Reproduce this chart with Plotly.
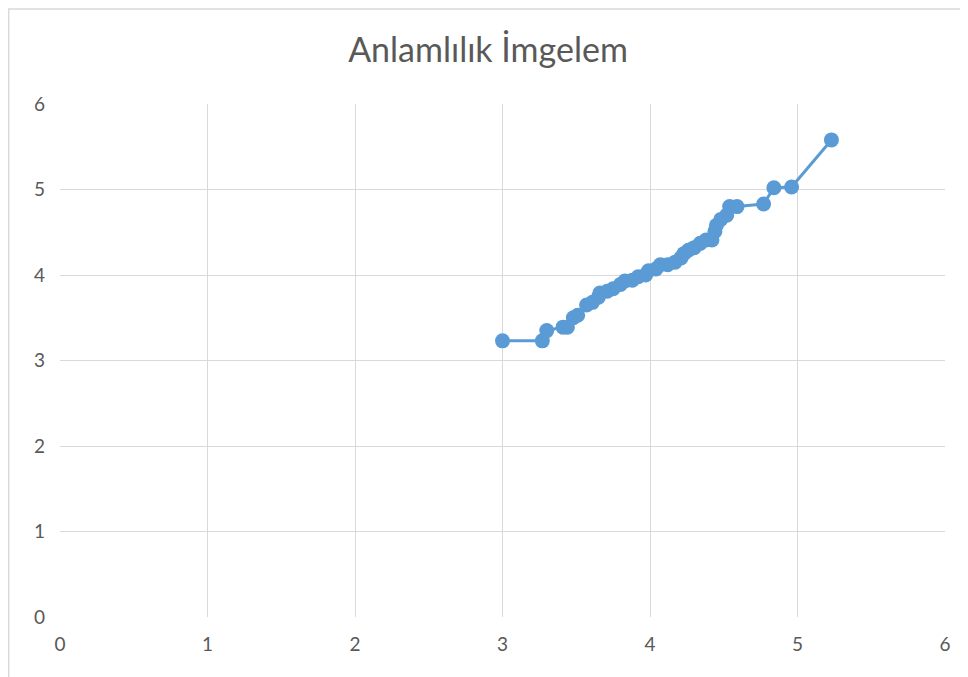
import plotly.graph_objects as go

title_text = "Anlamlılık İmgelem"

x_values = [3.00, 3.27, 3.30, 3.41, 3.44, 3.48, 3.51, 3.57, 3.61, 3.65, 3.66, 3.71,
            3.75, 3.80, 3.83, 3.88, 3.92, 3.97, 3.99, 4.04, 4.07, 4.12, 4.17, 4.21,
            4.23, 4.26, 4.30, 4.34, 4.38, 4.42, 4.44, 4.45, 4.48, 4.52, 4.54, 4.59,
            4.77, 4.84, 4.96, 5.23]
y_values = [3.23, 3.23, 3.35, 3.39, 3.39, 3.50, 3.53, 3.65, 3.68, 3.74, 3.79, 3.81,
            3.84, 3.89, 3.93, 3.94, 3.98, 4.00, 4.05, 4.07, 4.12, 4.12, 4.15, 4.20,
            4.25, 4.29, 4.32, 4.37, 4.41, 4.41, 4.51, 4.58, 4.65, 4.70, 4.80, 4.80,
            4.83, 5.02, 5.03, 5.58]

tick_vals = [0, 1, 2, 3, 4, 5, 6]

fig = go.Figure()
fig.add_trace(go.Scatter(
    x=x_values, y=y_values, mode="lines+markers",
    line=dict(color="#5B9BD5", width=3),
    marker=dict(color="#5B9BD5", size=15),
    showlegend=False,
))

axis_common = dict(
    range=[0, 6], tickvals=tick_vals, showgrid=True, gridcolor="#D9D9D9", gridwidth=1,
    zeroline=False, showline=False, ticks="",
    tickfont=dict(family="Lato, Open Sans, sans-serif", size=19, color="#595959"),
    fixedrange=True,
)

fig.update_layout(
    width=960, height=669,
    margin=dict(l=52, r=23, t=96, b=60),
    paper_bgcolor="white", plot_bgcolor="white",
    title=dict(text=title_text, x=0.5, xanchor="center",
               y=1 - 42 / 669, yanchor="middle",
               font=dict(family="Lato, Open Sans, sans-serif", size=34, color="#595959")),
    xaxis=dict(**axis_common, ticklabelstandoff=14),
    yaxis=dict(**axis_common, ticklabelstandoff=14),
    shapes=[dict(type="rect", xref="paper", yref="paper",
                 x0=-0.058, x1=1.08, y0=-0.2, y1=1.185,
                 line=dict(color="#D9D9D9", width=1.5), fillcolor="rgba(0,0,0,0)",
                 layer="below")],
)

fig.write_html("out.html")
